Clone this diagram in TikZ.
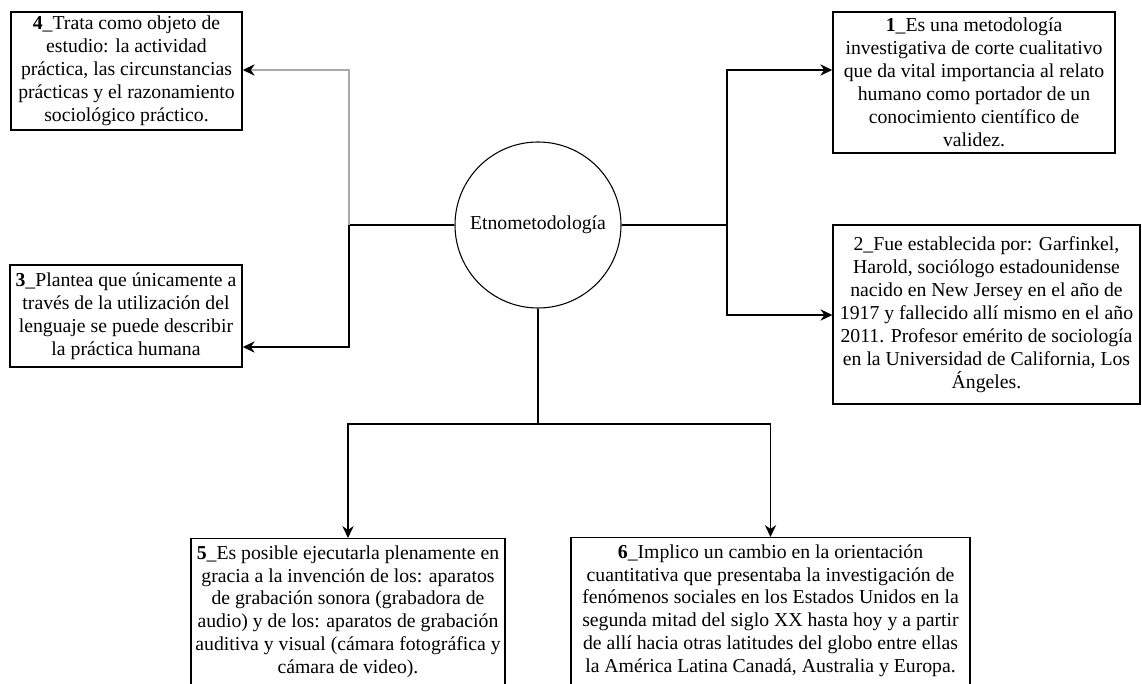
\documentclass[tikz,border=0pt]{standalone}
\usepackage{fontspec}
\setmainfont{Liberation Serif}
\usetikzlibrary{arrows.meta}
\definecolor{linegray}{RGB}{170,170,170}
\begin{document}
\begin{tikzpicture}[x=0.75pt,y=-0.75pt,
  every node/.style={font=\fontsize{14.8pt}{17.2pt}\selectfont},
  infobox/.style={draw, line width=1.1pt, align=center, inner xsep=2pt, inner ysep=3pt},
  topbox/.style={infobox, anchor=north, inner ysep=5pt},
  link/.style={line width=1pt},
  arr/.style={link, -{Stealth[length=9pt,width=8.5pt,inset=3pt,color=black]}},
  hub/.style={circle, draw, line width=0.8pt, minimum size=124.5pt, inner sep=0pt}]
\useasboundingbox (0,0) rectangle (1142,684);

\node[hub] (hub) at (538,225) {Etnometodología};

\node[infobox, minimum width=173.25pt, minimum height=88.5pt] (b4) at (126.5,71)
  {\textbf{4}\_Trata como objeto de\\ estudio: la actividad\\ práctica, las circunstancias\\ prácticas y el razonamiento\\ sociológico práctico.};
\node[infobox, minimum width=211.5pt, minimum height=105.75pt] (b1) at (974,82.5)
  {\textbf{1}\_Es una metodología\\ investigativa de corte cualitativo\\ que da vital importancia al relato\\ humano como portador de un\\ conocimiento científico de\\ validez.};
\node[infobox, minimum width=174pt, minimum height=76.5pt] (b3) at (126,316)
  {\textbf{3}\_Plantea que únicamente a\\ través de la utilización del\\ lenguaje se puede describir\\ la práctica humana};
\node[infobox, minimum width=230pt, minimum height=134.25pt] (b2) at (986.5,314.5)
  {2\_Fue establecida por: Garfinkel,\\ Harold, sociólogo estadounidense\\ nacido en New Jersey en el año de\\ 1917 y fallecido allí mismo en el año\\ 2011. Profesor emérito de sociología\\ en la Universidad de California, Los\\ Ángeles.};
\node[topbox, minimum width=235.5pt] (b5) at (348,538)
  {\textbf{5}\_Es posible ejecutarla plenamente en\\ gracia a la invención de los: aparatos\\ de grabación sonora (grabadora de\\ audio) y de los: aparatos de grabación\\ auditiva y visual (cámara fotográfica y\\ cámara de video).\rule[-30pt]{0pt}{1pt}};
\node[topbox, minimum width=299.25pt] (b6) at (770.5,537)
  {\textbf{6}\_Implico un cambio en la orientación\\ cuantitativa que presentaba la investigación de\\ fenómenos sociales en los Estados Unidos en la\\ segunda mitad del siglo XX hasta hoy y a partir\\ de allí hacia otras latitudes del globo entre ellas\\ la América Latina Canadá, Australia y Europa.\rule[-30pt]{0pt}{1pt}};

\coordinate (jl) at (349,225);
\coordinate (jr) at (727,225);
\coordinate (jb) at (538,424);
\coordinate (t4) at (349,70);
\coordinate (t3) at (349,347);
\coordinate (t1) at (727,70);
\coordinate (t2) at (727,315);

\draw[link] (hub.west) -- (jl);
\draw[arr, linegray] (jl) |- (b4.east |- t4);
\draw[arr] (jl) |- (b3.east |- t3);

\draw[link] (hub.east) -- (jr);
\draw[arr] (jr) |- (b1.west |- t1);
\draw[arr] (jr) |- (b2.west |- t2);

\draw[link] (hub.south) -- (jb);
\draw[arr] (jb) -| (b5.north);
\draw[arr] (jb) -| (b6.north);
\end{tikzpicture}
\end{document}
